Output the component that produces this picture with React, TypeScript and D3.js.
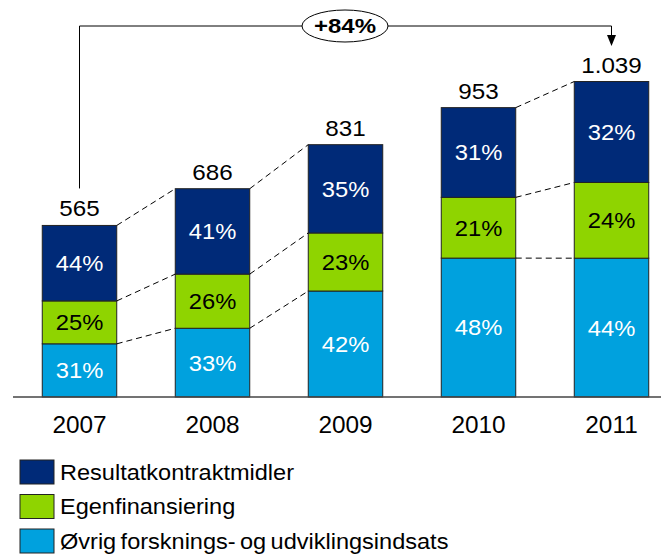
import React, { useEffect, useRef } from 'react';
import * as d3 from 'd3';

const years = ['2007', '2008', '2009', '2010', '2011'];
const totals = [565, 686, 831, 953, 1039];
const totalLabels = ['565', '686', '831', '953', '1.039'];

const seriesNames = ['Resultatkontraktmidler', 'Egenfinansiering', 'Øvrig forsknings- og udviklingsindsats'];
const seriesColors = ['#002a78', '#8fd400', '#00a1de'];
const seriesTextColors = ['#ffffff', '#000000', '#ffffff'];

// shares in percent, per year
const shareResultat = [44, 41, 35, 31, 32];
const shareEgen = [25, 26, 23, 21, 24];
const shareOevrig = [31, 33, 42, 48, 44];

// which neighbouring years get dashed connectors
const connectorPairs = [[0, 1], [1, 2], [3, 4]];
const growthLabel = '+84%';

const width = 661;
const height = 556;
const font = '"Liberation Sans", Arial, sans-serif';
const stretch = 1.08; // text in the original is a bit wide

const App: React.FC = () => {
  const svgRef = useRef<SVGSVGElement>(null);

  useEffect(() => {
    document.body.style.margin = '0';
    if (!svgRef.current) return;
    const svg = d3.select(svgRef.current);
    svg.selectAll('*').remove();

    const xScale = d3.scaleBand()
      .domain(years)
      .range([13, 678])
      .paddingInner(0.44)
      .paddingOuter(0.22);

    const yScale = d3.scaleLinear()
      .domain([0, 1100])
      .range([397, 63]);

    const addText = (parent: any, x: number, y: number, txt: string, size: number, opts: any = {}) => {
      return parent.append('text')
        .attr('transform', `translate(${x},${y}) scale(${opts.sx || stretch},1)`)
        .attr('dy', opts.dy || null)
        .attr('text-anchor', opts.anchor || 'middle')
        .style('font-family', font)
        .style('font-size', `${size}px`)
        .style('font-weight', opts.bold ? 'bold' : 'normal')
        .style('word-spacing', opts.ws || null)
        .style('fill', opts.fill || '#000')
        .text(txt);
    };

    // stack bottom -> top: Øvrig, Egen, Resultat
    const rows = years.map((year, i) => ({
      year,
      oevrig: totals[i] * shareOevrig[i] / 100,
      egen: totals[i] * shareEgen[i] / 100,
      resultat: totals[i] * shareResultat[i] / 100,
    }));
    const keys = ['oevrig', 'egen', 'resultat'];
    const shares = [shareOevrig, shareEgen, shareResultat];
    const colorIdx = [2, 1, 0];
    const stacked = d3.stack<any>().keys(keys)(rows);

    const g = svg.append('g');

    // dashed connectors between bars
    stacked.forEach(layer => {
      connectorPairs.forEach(([a, b]) => {
        g.append('line')
          .attr('x1', (xScale(years[a]) || 0) + xScale.bandwidth())
          .attr('y1', yScale(layer[a][1]))
          .attr('x2', xScale(years[b]) || 0)
          .attr('y2', yScale(layer[b][1]))
          .attr('stroke', '#000')
          .attr('stroke-width', 1)
          .attr('stroke-dasharray', '6,4');
      });
    });

    // bars
    stacked.forEach((layer, li) => {
      const c = colorIdx[li];
      layer.forEach((d, i) => {
        const x = xScale(years[i]) || 0;
        const y0 = yScale(d[0]);
        const y1 = yScale(d[1]);
        g.append('rect')
          .attr('x', x)
          .attr('y', y1)
          .attr('width', xScale.bandwidth())
          .attr('height', y0 - y1)
          .attr('fill', seriesColors[c])
          .attr('stroke', '#222')
          .attr('stroke-width', 1);
        addText(g, x + xScale.bandwidth() / 2, (y0 + y1) / 2, `${shares[li][i]}%`, 22,
          { dy: '0.36em', fill: seriesTextColors[c] });
      });
    });

    // totals above bars
    years.forEach((year, i) => {
      addText(g, (xScale(year) || 0) + xScale.bandwidth() / 2, yScale(totals[i]) - 9, totalLabels[i], 22, { sx: 1.1 });
    });

    // x axis
    g.append('line')
      .attr('x1', 13).attr('x2', width)
      .attr('y1', yScale(0)).attr('y2', yScale(0))
      .attr('stroke', '#444').attr('stroke-width', 1.5);

    years.forEach(year => {
      addText(g, (xScale(year) || 0) + xScale.bandwidth() / 2, 433, year, 23, { sx: 1.06 });
    });

    // growth annotation
    const xa = (xScale(years[0]) || 0) + xScale.bandwidth() / 2;
    const xb = (xScale(years[years.length - 1]) || 0) + xScale.bandwidth() / 2;
    const ya = 26;
    g.append('path')
      .attr('d', `M${xa},${yScale(totals[0]) - 37}V${ya}H${xb}V${37}`)
      .attr('fill', 'none')
      .attr('stroke', '#000')
      .attr('stroke-width', 1);
    g.append('path')
      .attr('d', `M${xb - 4.5},${35}L${xb + 4.5},${35}L${xb},${46}Z`)
      .attr('fill', '#000');
    g.append('ellipse')
      .attr('cx', 345).attr('cy', ya)
      .attr('rx', 43).attr('ry', 16)
      .attr('fill', '#fff').attr('stroke', '#000').attr('stroke-width', 1);
    addText(g, 345, ya, growthLabel, 20, { dy: '0.36em', bold: true, sx: 1.2 });

    // legend
    const legend = g.append('g').attr('transform', 'translate(20, 460)');
    seriesNames.forEach((name, i) => {
      const row = legend.append('g').attr('transform', `translate(0, ${i * 34.5})`);
      row.append('rect')
        .attr('width', 34).attr('height', 24)
        .attr('fill', seriesColors[i])
        .attr('stroke', '#222').attr('stroke-width', 1);
      addText(row, 40, 12, name, 22, { dy: '0.36em', anchor: 'start', sx: 1.07, ws: '-2px' });
    });
  }, []);

  return <svg ref={svgRef} width={width} height={height} style={{ display: 'block' }} />;
};

export default App;
